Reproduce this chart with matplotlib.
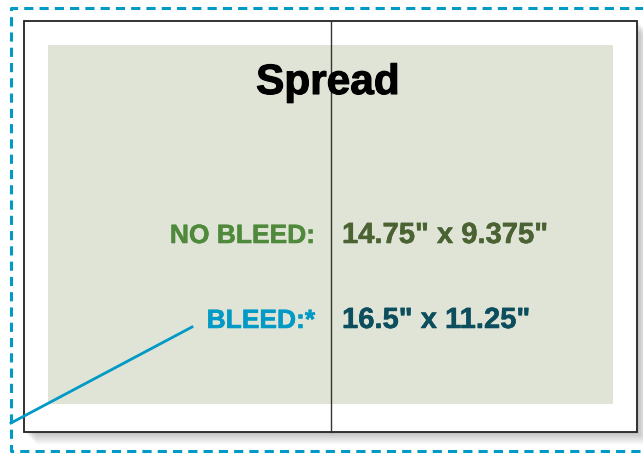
import matplotlib.pyplot as plt
import matplotlib.patches as patches
import matplotlib.patheffects as pe

# Labels and values shown on the spread
title = "Spread"
labels = ["NO BLEED:", "BLEED:*"]
sizes = ['14.75" x 9.375"', '16.5" x 11.25"']
label_colors = ["#4f8a3c", "#0199c5"]
size_colors = ["#4b6332", "#0c4e5d"]
baseline_y = [243, 328]

FONT = "Liberation Sans"

fig = plt.figure(figsize=(6.43, 4.53), dpi=100)
ax = fig.add_axes([0, 0, 1, 1])
ax.set_xlim(0, 643)
ax.set_ylim(453, 0)
ax.axis("off")

# Soft shadow behind the page
for i, a in enumerate([0.06, 0.07, 0.08, 0.09, 0.10, 0.11]):
    off = 12 - 2 * i
    ax.add_patch(patches.Rectangle((24 + off, 21 + off), 613, 411,
                                   facecolor="#707070", edgecolor="none", alpha=a, zorder=1))

# Page
ax.add_patch(patches.Rectangle((24, 21), 613, 411, facecolor="white",
                               edgecolor="#222222", linewidth=1.3, zorder=2))
# Live area
ax.add_patch(patches.Rectangle((48, 45), 565, 359, facecolor="#dfe4d7",
                               edgecolor="none", zorder=3))
# Spine line
ax.plot([331, 331], [21, 432], color="#333333", linewidth=1.0, zorder=4)

# Bleed outline (dashed)
ax.plot([660, 11, 11, 660], [8, 8, 451, 451], color="#0199c5", linewidth=2.2,
        linestyle=(0, (3, 2)), zorder=5, clip_on=False)


def heavy(color, w):
    return [pe.withStroke(linewidth=w, foreground=color)]


# Title
ax.text(328, 94, title, fontsize=30.5, fontweight="bold", family=FONT,
        ha="center", va="baseline", color="black", zorder=6,
        path_effects=heavy("black", 0.8))

for lab, sz, lc, sc, y in zip(labels, sizes, label_colors, size_colors, baseline_y):
    ax.text(315, y, lab, fontsize=19, fontweight="bold", family=FONT,
            ha="right", va="baseline", color=lc, zorder=6,
            path_effects=heavy(lc, 0.4))
    ax.text(342, y, sz, fontsize=21, fontweight="bold", family=FONT,
            ha="left", va="baseline", color=sc, zorder=6,
            path_effects=heavy(sc, 0.4))

# Leader line from BLEED label to the bleed outline
ax.plot([192, 11], [327, 423], color="#0199c5", linewidth=2, zorder=6)

fig.savefig("out.png", dpi=100)
